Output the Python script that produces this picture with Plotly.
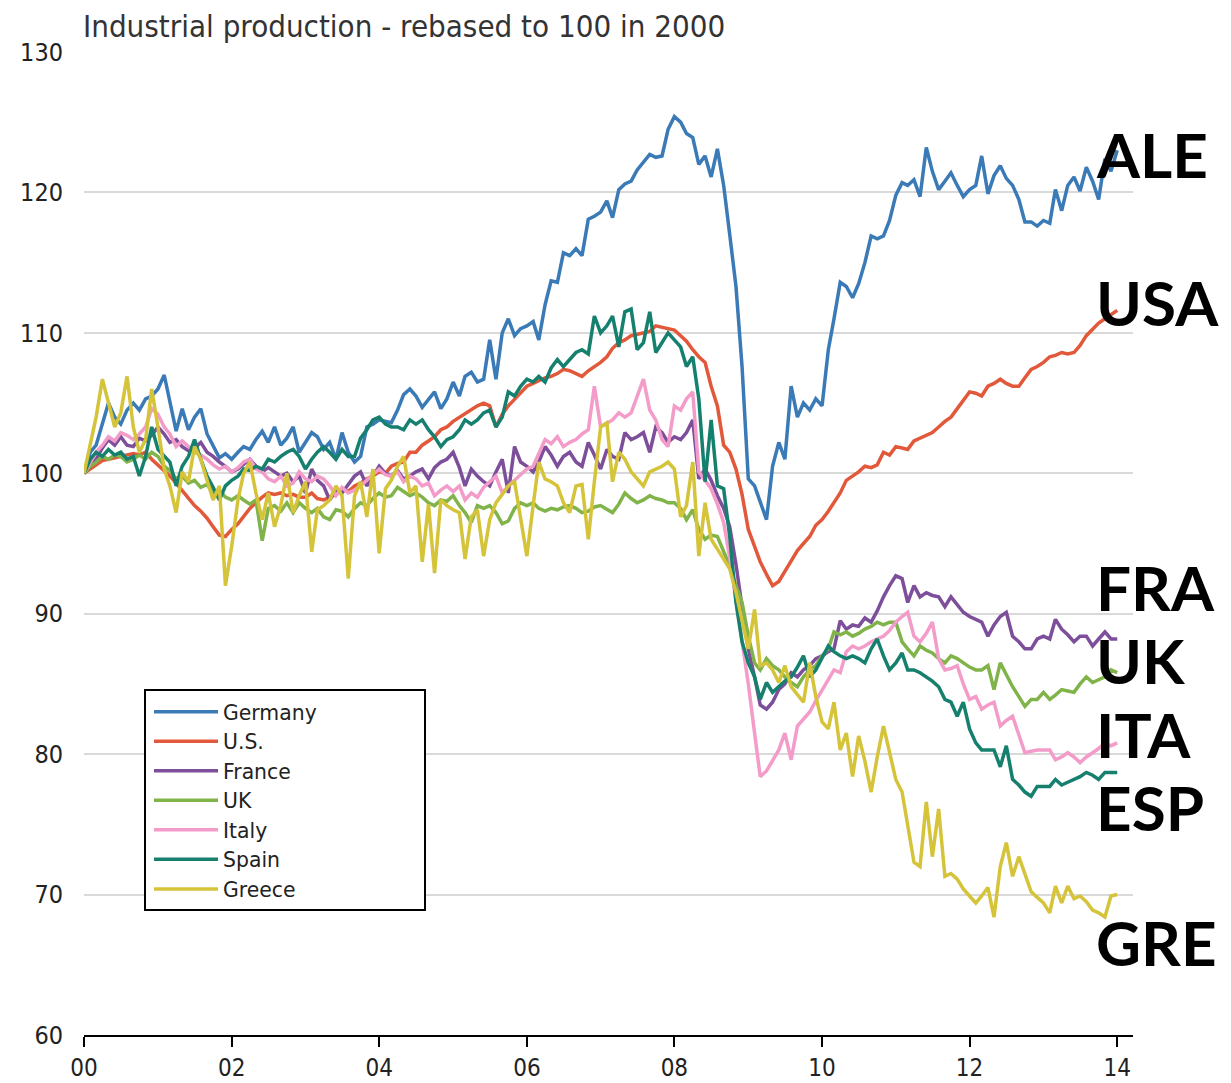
import plotly.graph_objects as go
import pandas as pd

# Monthly index values, Jan 2000 .. Jan 2014 (rebased, 2000 = 100)
germany = [
    100, 101.5, 102, 103.5, 105, 104, 103.5, 104.5, 105, 104.5, 105.3, 105.5,
    106, 107, 105, 103, 104.6, 103.1, 104, 104.6, 102.8, 102, 101.1, 101.4,
    101, 101.5, 101.9, 101.7, 102.4, 103, 102.2, 103.3, 102, 102.5, 103.3, 101.5,
    102.2, 102.9, 102.6, 101.7, 102.2, 101, 102.9, 101.5, 100.8, 101.2, 103.3, 103.5,
    103.8, 103.7, 103.6, 104.5, 105.6, 106, 105.5, 104.7, 105.3, 105.8, 104.6, 105.3,
    106.5, 105.5, 106.9, 107.2, 106.5, 106.7, 109.5, 106.7, 110, 111, 109.8, 110.3,
    110.5, 110.8, 109.5, 112, 113.7, 113.6, 115.7, 115.5, 116, 115.5, 118.1, 118.3,
    118.6, 119.4, 118.2, 120.2, 120.6, 120.8, 121.6, 122.2, 122.7, 122.5, 122.6, 124.5,
    125.4, 125, 124.2, 123.9, 122, 122.6, 121.1, 123.1, 120.5, 117, 113.3, 107.6,
    99.6, 99.1, 98, 96.7, 100.5, 102.2, 101, 106.2, 104, 105, 104.5, 105.3,
    104.8, 108.8, 111, 113.6, 113.3, 112.5, 113.5, 115, 116.9, 116.7, 116.9, 118,
    119.8, 120.7, 120.5, 120.9, 119.7, 123.2, 121.5, 120.2, 120.8, 121.4, 120.5, 119.7,
    120.2, 120.5, 122.6, 119.9, 121.2, 121.9, 121, 120.5, 119.5, 117.9, 117.9, 117.6,
    118, 117.8, 120.2, 118.7, 120.5, 121.1, 120.1, 121.8, 120.8, 119.5, 122.4, 121.5,
    123,
]
us = [
    100, 100.3, 100.6, 100.9, 101, 101.1, 101.2, 101.3, 101.4, 101.3, 101.5, 101,
    100.6, 100.2, 99.8, 99.3, 98.8, 98.2, 97.7, 97.3, 96.8, 96.2, 95.6, 95.5,
    96, 96.4, 96.9, 97.5, 97.9, 98.3, 98.6, 98.5, 98.6, 98.4, 98.5, 98.3,
    98.3, 98.6, 98.2, 98.1, 98.3, 98.5, 98.9, 98.7, 99.1, 99.3, 99.6, 99.8,
    100.1, 100, 100.5, 100.7, 100.8, 101.5, 101.5, 102, 102.3, 102.6, 103.1, 103.3,
    103.7, 104, 104.2, 104.5, 104.8, 105, 104.8, 103.3, 104.2, 104.8, 105.3, 105.7,
    106.2, 106.4, 106.6, 106.8, 106.9, 107.1, 107.4, 107.3, 107.1, 106.9, 107.3, 107.6,
    107.9, 108.3, 108.9, 109.3, 109.5, 109.8, 109.9, 110, 110.1, 110.5, 110.4, 110.3,
    110.2, 109.8, 109.4, 108.8, 108.3, 107.9, 106.2, 104.8, 102, 101.5, 100.3, 98.5,
    96, 94.8, 93.7, 92.8, 92, 92.3, 93, 93.7, 94.5, 95, 95.5, 96.3,
    96.7, 97.3, 97.9, 98.6, 99.5, 99.8, 100.1, 100.5, 100.4, 100.6, 101.5, 101.3,
    101.9, 101.8, 101.7, 102.3, 102.5, 102.7, 102.9, 103.3, 103.7, 104, 104.6, 105.2,
    105.8, 105.7, 105.5, 106.2, 106.4, 106.7, 106.4, 106.2, 106.2, 106.8, 107.4, 107.6,
    107.9, 108.3, 108.4, 108.6, 108.5, 108.6, 109.1, 109.8, 110.3, 110.7, 111, 111.3,
    111.6,
]
france = [
    100, 100.5, 101, 101.8, 102.4, 102, 102.6, 102, 101.9, 102.5, 102.3, 102.7,
    103.3, 102.8, 102.2, 102.4, 101.9, 101.6, 101.8, 102.2, 101.5, 101.2, 100.8, 100.5,
    100.1, 100.3, 100.6, 101, 100.5, 100.1, 100.4, 100.1, 99.8, 100, 99.4, 99.8,
    98.6, 100.3, 99.5, 99.1, 98.1, 98.8, 98.6, 99.2, 99.8, 100.1, 99.1, 99.8,
    100.5, 100, 99.8, 100.2, 99.6, 99.8, 100.1, 100.3, 99.6, 100.4, 100.8, 101,
    101.5, 100.4, 99.1, 100.3, 99.8, 99.4, 99.1, 100.1, 101, 98.6, 101.9, 100.8,
    100.5, 100.1, 100.8, 101.9, 101.3, 100.5, 101.2, 101.5, 100.8, 100.5, 102.2, 101.3,
    100.3, 101.7, 101.2, 101, 102.9, 102.4, 102.6, 102.9, 101.5, 103.3, 102.9, 102.2,
    102.6, 102.4, 102.9, 103.8, 99.6, 100.3, 99.5, 98.4, 97.5, 96.2, 93.5, 90.5,
    87.5, 85.5, 83.5, 83.2, 83.7, 84.6, 85, 85.8, 85.5, 86, 86.3, 86.8,
    87, 87.3, 87.5, 89.5, 88.9, 89.2, 89.1, 89.7, 89.4, 90.2, 91.2, 92,
    92.7, 92.5, 90.8, 92, 91.2, 91.5, 91.3, 91.2, 90.5, 91.2, 90.6, 90.1,
    89.8, 89.6, 89.4, 88.4, 89.2, 89.8, 90.1, 88.4, 88, 87.5, 87.5, 88.2,
    88.4, 88.2, 89.6, 88.9, 88.5, 88, 88.4, 88.4, 87.7, 88.2, 88.7, 88.2,
    88.2,
]
uk = [
    100, 100.5, 100.8, 101.2, 101, 101.3, 101.2, 100.8, 101, 101.3, 101, 101.5,
    101.2, 100.5, 100.2, 99.6, 99.8, 99.3, 99.5, 99, 99.2, 98.6, 98.8, 98.3,
    98.1, 98.4, 98.1, 97.8, 98.1, 95.2, 97.5, 97.7, 97.3, 97.9, 97.2, 97.9,
    97.5, 97.2, 97.5, 96.9, 96.7, 97.4, 97.3, 96.9, 97.5, 97.9, 97.7, 98.2,
    98.6, 98.3, 98.4, 99, 98.7, 98.4, 98.6, 98.3, 97.9, 97.7, 98.1, 98,
    98.4, 97.7, 97.2, 96.5, 97.7, 97.5, 97.7, 97.2, 96.4, 96.6, 97.5, 97.9,
    97.7, 97.9, 97.5, 97.3, 97.5, 97.4, 97.6, 97.7, 97.5, 97.2, 97.3, 97.6,
    97.7, 97.4, 97.2, 97.8, 98.6, 98.2, 97.9, 98.1, 98.4, 98.2, 98.1, 97.9,
    97.9, 97.5, 96.7, 97.4, 96, 95.3, 95.6, 95.5, 94.4, 93.4, 92, 90.8,
    88.4, 86.5, 86, 86.8, 86.3, 86, 85.5, 85.1, 84.8, 85.5, 86, 86.3,
    87, 87.5, 88.7, 88.5, 88.7, 88.4, 88.6, 88.9, 89.1, 89.4, 89.2, 89.4,
    89.4, 88, 87.5, 87, 87.7, 87.4, 87.2, 86.8, 86.5, 87, 86.8, 86.5,
    86.2, 86, 86, 86.3, 84.6, 86.5, 85.6, 84.8, 84.1, 83.4, 83.9, 83.9,
    84.4, 83.9, 84.2, 84.6, 84.5, 84.4, 85, 85.5, 85.1, 85.3, 85.5, 86,
    85.8,
]
italy = [
    100, 100.8, 101.5, 102, 102.6, 102.3, 102.9, 102.7, 102.4, 102.8, 103.3, 104.6,
    104.2, 103.3, 102.8, 101.9, 102.3, 101.9, 101.5, 101.3, 101, 100.6, 100.3, 100.5,
    100.1, 100.4, 100.8, 101, 100.3, 100.1, 99.6, 99.4, 99.8, 99.1, 99.3, 100.1,
    99.6, 99.4, 99.8, 99.6, 99.1, 98.4, 99, 98.6, 98.8, 99.1, 99.5, 99.9,
    100.3, 99.9, 99.8, 100.1, 99.4, 99.8, 99.6, 99.1, 99.3, 98.4, 98.8, 99.1,
    98.7, 99.1, 98.1, 98.6, 98.3, 99, 99.4, 99.8, 98.6, 99.1, 99.5, 99.9,
    100.3, 100.5, 101.4, 102.4, 102.1, 102.6, 101.9, 102.2, 102.4, 102.8, 103.1, 106.2,
    103.3, 103.6, 103.8, 104.3, 104, 104.3, 105.5, 106.7, 104.5, 103.8, 102.4, 101.9,
    104.8, 104.5, 105.3, 105.8, 100.1, 99.5, 98.9, 97.8, 96.5, 94, 91, 88,
    85, 81.5, 78.4, 78.8, 79.6, 80.3, 81.5, 79.6, 82, 82.5, 83, 83.8,
    84.6, 85.3, 86, 85.8, 87.3, 87.7, 87.5, 87.7, 88, 88.2, 88.4, 88.8,
    89.4, 89.8, 90.1, 88.4, 88, 88.6, 89.4, 86.8, 86, 86.1, 86.3, 85,
    83.9, 84.1, 83.2, 83.5, 83.7, 82, 82.4, 82.7, 81.3, 80.1, 80.2, 80.3,
    80.3, 80.3, 79.6, 79.8, 80.1, 79.8, 79.4, 79.8, 80.1, 80.4, 80.8, 80.6,
    80.8,
]
spain = [
    100, 101, 101.5, 101.2, 101.7, 101.3, 101.5, 101, 101.2, 99.8, 101.2, 103.3,
    101.7, 101.2, 100.8, 99.1, 100.5, 101.2, 102.4, 101, 99.8, 99, 98.1, 99.1,
    99.5, 99.8, 100.3, 100.2, 100.5, 100.3, 101, 100.8, 101.2, 101.5, 101.7, 101.2,
    100.3, 101, 101.5, 101.9, 101.5, 101, 101.7, 101.2, 101.2, 102.5, 103.1, 103.8,
    104, 103.5, 103.3, 103.3, 103.1, 103.8, 103.5, 103.8, 103.1, 102.6, 101.9, 102.4,
    102.6, 103.1, 103.8, 103.5, 103.8, 104.3, 104.5, 103.3, 104, 105.8, 105.5, 106.2,
    106.7, 106.5, 106.9, 106.5, 107.5, 108.1, 107.6, 108.1, 108.6, 108.8, 108.5, 111.2,
    110, 110.5, 111.2, 109, 111.5, 111.7, 108.8, 109.3, 111.5, 108.6, 109.3, 110,
    109.5, 109, 107.6, 108.3, 105.3, 99.4, 103.8, 99.1, 98.9, 95.5, 90.8, 88,
    86.5, 85.5, 83.9, 85.1, 84.4, 84.8, 85.2, 85.5, 86.2, 87, 85.5, 86,
    86.8, 87.7, 87.3, 87, 86.8, 87, 86.8, 86.5, 87.5, 88.2, 87, 86,
    86.5, 87.2, 86, 86, 85.8, 85.5, 85.2, 84.8, 83.9, 83.7, 82.7, 83.7,
    81.8, 80.8, 80.3, 80.3, 80.3, 79.1, 80.6, 78.2, 77.8, 77.3, 77, 77.7,
    77.7, 77.7, 78.2, 77.8, 78, 78.2, 78.4, 78.7, 78.5, 78.2, 78.7, 78.7,
    78.7,
]
greece = [
    100, 102, 104, 106.7, 105, 103.3, 104.3, 106.9, 103.3, 101.5, 102.4, 106,
    103.3, 100.3, 99.1, 97.2, 100.1, 99.4, 101.9, 101, 99.5, 98.1, 99.1, 92,
    94.8, 98.1, 100, 100.8, 98.6, 96.7, 98.6, 96.2, 97.7, 100, 97.2, 98.4,
    99.4, 94.4, 97.4, 97.7, 98.1, 99.1, 98.4, 92.5, 98.4, 99.4, 96.9, 100.3,
    94.3, 98.9, 99.5, 100.5, 101.2, 98.6, 99.1, 93.7, 97.8, 92.9, 98.1, 97.7,
    97.4, 97.2, 93.9, 96.9, 97.4, 94.1, 96.7, 97.9, 98.5, 99.1, 99.4, 96.7,
    94.1, 97.7, 100.8, 99.6, 99.4, 99.1, 97.9, 97.2, 99.1, 99.2, 95.3, 99.4,
    103.3, 103.6, 99.4, 101.5, 101, 100.1, 99.6, 99.1, 100.1, 100.3, 100.5, 100.8,
    100.3, 96.9, 97.7, 100.8, 94.1, 97.9, 95.3, 94.6, 93.9, 93.2, 91.5, 89.6,
    87.5, 90.3, 86.3, 86.5, 86, 85.1, 86.3, 84.8, 84.2, 83.7, 86.5, 84.1,
    82.3, 81.8, 83.7, 80.3, 81.5, 78.4, 81.3, 79.5, 77.3, 79.8, 82, 80,
    78.2, 77.3, 74.9, 72.3, 72, 76.6, 72.7, 76.1, 71.3, 71.5, 71.1, 70.4,
    69.9, 69.4, 69.9, 70.5, 68.4, 72, 73.7, 71.3, 72.7, 71.5, 70.2, 69.8,
    69.4, 68.7, 70.6, 69.4, 70.6, 69.7, 69.9, 69.5, 68.9, 68.7, 68.4, 69.9,
    70,
]

series_names = ["Germany", "U.S.", "France", "UK", "Italy", "Spain", "Greece"]
series_values = [germany, us, france, uk, italy, spain, greece]
series_colors = ["#3a7ab6", "#e2583a", "#7d4f9b", "#80b44a", "#f39cc9", "#16806f", "#d5c43a"]

end_labels = ["ALE", "USA", "FRA", "UK", "ITA", "ESP", "GRE"]
end_label_y = [122.74, 112.2, 91.9, 86.7, 81.43, 76.23, 66.61]

months = pd.date_range("2000-01-01", periods=len(germany), freq="MS")

NARROW = "DejaVu Sans Condensed, Liberation Sans Narrow, sans-serif"

# page body has an 8px margin, so the figure is 8px smaller than the window
W, H = 1223, 1075
PLOT_L, PLOT_T, PLOT_W, PLOT_H = 84, 52, 1049, 983   # plot area in page pixels


def px_x(p):
    return (p - PLOT_L) / PLOT_W


def px_y(p):
    return 1 - (p - PLOT_T) / PLOT_H


fig = go.Figure()
for name, vals, col in zip(series_names, series_values, series_colors):
    fig.add_trace(go.Scatter(
        x=months[:len(vals)], y=vals, name=name, mode="lines",
        line=dict(color=col, width=3.5),
    ))

for lab, yv in zip(end_labels, end_label_y):
    fig.add_annotation(
        text=f"<b>{lab}</b>", xref="paper", x=0.963, xanchor="left",
        yref="y", y=yv, yanchor="middle", showarrow=False,
        font=dict(family="Lato, Noto Sans, sans-serif", size=62, color="black"),
    )

# legend frame
fig.add_shape(
    type="rect", xref="paper", yref="paper",
    x0=px_x(145), x1=px_x(425), y0=px_y(910), y1=px_y(690),
    line=dict(color="black", width=2), fillcolor="white", layer="above",
)

fig.update_layout(
    width=W, height=H,
    margin=dict(l=76, r=98, t=44, b=48, autoexpand=False),
    paper_bgcolor="white", plot_bgcolor="white",
    title=dict(
        text="Industrial production - rebased to 100 in 2000",
        xref="container", yref="container",
        x=75 / W, xanchor="left", y=1 - 18 / H, yanchor="middle",
        font=dict(family=NARROW, size=31, color="#333333"),
    ),
    xaxis=dict(
        type="date", range=["2000-01-01", "2014-03-20"],
        tickformat="%y", dtick="M24", tick0="2000-01-01",
        ticks="outside", ticklen=10, tickwidth=1.5, tickcolor="black",
        showline=True, linecolor="black", linewidth=2,
        showgrid=False, zeroline=False, automargin=False,
        ticklabelstandoff=0,
        tickfont=dict(family=NARROW, size=24, color="#222222"),
    ),
    yaxis=dict(
        range=[60, 130], dtick=10, tick0=60,
        showgrid=True, gridcolor="#d9d9d9", gridwidth=1.5,
        zeroline=False, showline=False, ticks="", automargin=False,
        ticklabelstandoff=20,
        tickfont=dict(family=NARROW, size=25, color="#222222"),
    ),
    legend=dict(
        x=px_x(149), y=px_y(692),
        xanchor="left", yanchor="top",
        bgcolor="rgba(0,0,0,0)", borderwidth=0,
        font=dict(family="DejaVu Sans, sans-serif", size=20.4, color="#222222"),
        itemwidth=64, tracegroupgap=0,
    ),
    showlegend=True,
)

fig.write_html("out.html")
